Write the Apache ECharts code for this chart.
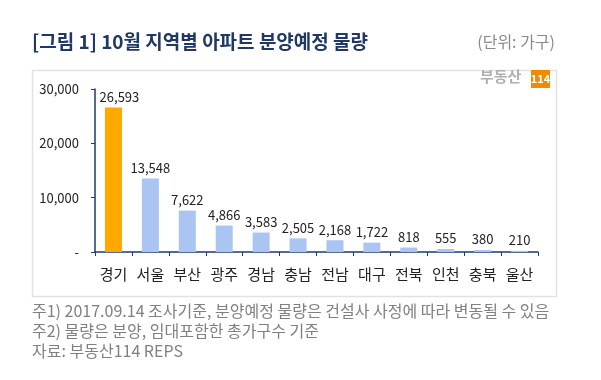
<!DOCTYPE html>
<html><head><meta charset="utf-8">
<script src="https://cdn.jsdelivr.net/npm/echarts@6/dist/echarts.min.js"></script>
<style>html,body{margin:0;padding:0;background:#fff}#c{width:601px;height:380px}</style>
</head><body><div id="c"></div>
<script>
const categories = ['경기','서울','부산','광주','경남','충남','전남','대구','전북','인천','충북','울산'];
const values = [26593,13548,7622,4866,3583,2505,2168,1722,818,555,380,210];
const yTicks = [0,10000,20000,30000];
const highlight = '경기';
const titleText = '[그림 1] 10월 지역별 아파트 분양예정 물량';
const unitText = '(단위: 가구)';
const notes = ['주1) 2017.09.14 조사기준, 분양예정 물량은 건설사 사정에 따라 변동될 수 있음','주2) 물량은 분양, 임대포함한 총가구수 기준','자료: 부동산114 REPS'];

const FONT = '"Noto Sans CJK KR", "Noto Sans", sans-serif';
const fmt = v => v === 0 ? '-' : v.toLocaleString('en-US');
const chart = echarts.init(document.getElementById('c'));
chart.setOption({
  animation:false,
  textStyle:{fontFamily:FONT},
  grid:{left:95,right:63,top:89,bottom:128,containLabel:false},
  xAxis:{type:'category',data:categories,
    axisLine:{lineStyle:{color:'#1F3A6E',width:1.5}},
    axisTick:{show:true,length:4,lineStyle:{color:'#1F3A6E'}},
    axisLabel:{color:'#222',fontSize:15,margin:15,fontFamily:FONT}},
  yAxis:{type:'value',min:yTicks[0],max:yTicks[yTicks.length-1],interval:10000,
    splitLine:{show:false},
    axisLine:{show:true,lineStyle:{color:'#1F3A6E',width:1.5}},
    axisTick:{show:true,length:4,lineStyle:{color:'#1F3A6E'}},
    axisLabel:{color:'#222',fontSize:13,margin:16,formatter:fmt,fontFamily:FONT}},
  series:[{type:'bar',barWidth:17,
    data:values.map((v,i)=>({value:v,itemStyle:{color:categories[i]===highlight?'#FFA800':'#AAC5F2'},
      label:categories[i]===highlight?{offset:[6,0]}:undefined})),
    label:{show:true,position:'top',distance:4,color:'#222',fontSize:13,fontFamily:FONT,formatter:p=>p.value.toLocaleString('en-US')}}],
  graphic:[
    {type:'text',left:32,top:32,style:{text:titleText,font:'bold 19px '+FONT,fill:'#1F3864'}},
    {type:'text',right:46,top:34,style:{text:unitText,font:'16px '+FONT,fill:'#8a8a8a'}},
    {type:'rect',shape:{x:32.5,y:70.5,width:524,height:226},style:{fill:'none',stroke:'#e2e2e2',lineWidth:1.5},z:-1},
    {type:'text',x:480,y:69,style:{text:'부동산',font:'bold 15px '+FONT,fill:'#b0b0b0'}},
    {type:'rect',shape:{x:531,y:70,width:19,height:18},style:{fill:'#F08A00'}},
    {type:'text',x:540.5,y:79,style:{text:'114',font:'bold 11px '+FONT,fill:'#fff',align:'center',verticalAlign:'middle'}},
    {type:'text',left:32,top:303,style:{text:notes[0],font:'16px '+FONT,fill:'#808080'}},
    {type:'text',left:32,top:323,style:{text:notes[1],font:'16px '+FONT,fill:'#808080'}},
    {type:'text',left:32,top:343,style:{text:notes[2],font:'16px '+FONT,fill:'#808080'}}
  ]
});
</script></body></html>
